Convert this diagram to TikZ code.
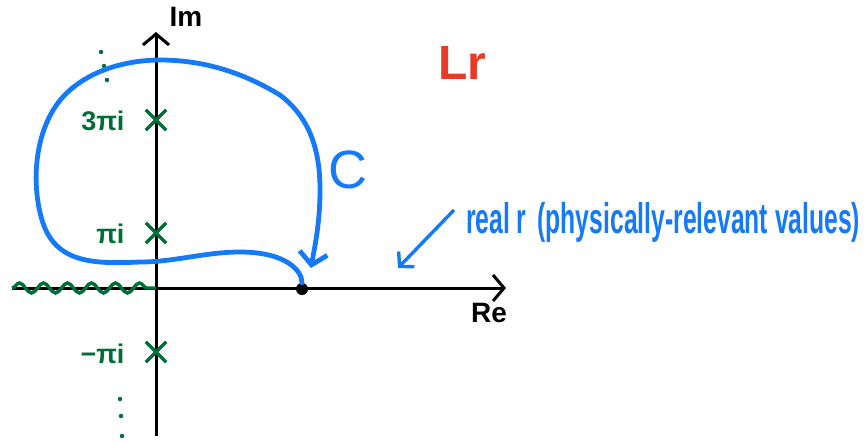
\documentclass[tikz,border=0pt]{standalone}
\usepackage{fontspec}
\setmainfont{Liberation Sans}
\usetikzlibrary{arrows.meta,decorations.pathmorphing,shapes.misc}
\definecolor{cblue}{RGB}{20,122,250}
\definecolor{cgreen}{RGB}{0,110,55}
\definecolor{cred}{RGB}{232,58,40}
\tikzset{
  axis/.style={line width=3pt, black, -{Straight Barb[length=11pt,width=26pt,line width=3pt]}},
  contour/.style={line width=4.8pt, cblue, line cap=round},
  pole/.style={cross out, draw=cgreen, line width=3.4pt, minimum size=17pt, inner sep=0pt},
  polelabel/.style={text=cgreen, font=\fontsize{27}{29}\selectfont\bfseries, anchor=east},
  dotmark/.style={fill=cgreen, circle, inner sep=0pt, minimum size=4.5pt},
}
\begin{document}
\begin{tikzpicture}[x=1pt,y=-1pt]
\useasboundingbox (0,0) rectangle (867,442);
% axes
\coordinate (vbot) at (156,436);
\coordinate (vtop) at (156,32);
\coordinate (hleft) at (12,288);
\coordinate (horig) at (156,288);
\coordinate (hright) at (506,288);
\draw[axis] (vbot) -- (vtop);
\draw[axis] (hleft) -- (hright);
\node[font=\fontsize{28}{30}\selectfont\bfseries] (im) at (186,17) {Im};
\node[font=\fontsize{28}{30}\selectfont\bfseries] (re) at (489,313) {Re};
% branch cut
\draw[cgreen, line width=3.4pt, decorate, decoration={snake, amplitude=5pt, segment length=24pt}] (hleft) -- (horig);
% poles
\node[pole] (p3) at (156,120) {};
\node[pole] (p1) at (156,233) {};
\node[pole] (pm1) at (156,352) {};
\node[polelabel] (l3) at (128,121) {3πi};
\node[polelabel] (l1) at (128,234) {πi};
\node[polelabel] (lm1) at (128,354) {−πi};
% ellipsis dots
\node[dotmark] (d1) at (101,52) {};
\node[dotmark] (d2) at (104,66) {};
\node[dotmark] (d3) at (107,80) {};
\node[dotmark] (d4) at (120,399) {};
\node[dotmark] (d5) at (121,416) {};
\node[dotmark] (d6) at (122,436) {};
% start point
\node[fill=black, circle, inner sep=0pt, minimum size=12pt] (r0) at (302,289) {};
% contour C
\coordinate (cend) at (311,268);
\draw[contour, -{Straight Barb[length=12pt,width=28pt,line width=4.8pt]}]
  (r0.north)
  .. controls (302,270) and (285,252) .. (240,252)
  .. controls (205,252) and (175,262) .. (140,262)
  .. controls (95,264) and (55,264) .. (42,220)
  .. controls (30,180) and (35,120) .. (70,90)
  .. controls (100,64) and (140,60) .. (160,60)
  .. controls (215,60) and (255,80) .. (280,95)
  .. controls (310,118) and (320,150) .. (320,190)
  .. controls (320,225) and (314,250) .. (cend);
\node[text=cblue, font=\fontsize{54}{56}\selectfont] (clab) at (348,170) {C};
% Lr
\node[text=cred, font=\fontsize{48}{50}\selectfont\bfseries] (lr) at (462,63) {Lr};
% real r annotation
\node[text=cblue, font=\fontsize{25}{28}\selectfont\bfseries, anchor=west, inner sep=0pt] (real) at (466,222) {\resizebox*{394pt}{40pt}{real r\, (physically-relevant values)}};
\coordinate (rtip) at (398,268);
\draw[cblue, line width=3.4pt, -{Straight Barb[length=10pt,width=22pt,line width=3.4pt]}] (real.west) ++(-12,-12) coordinate (rstart) -- (rtip);
\end{tikzpicture}
\end{document}
